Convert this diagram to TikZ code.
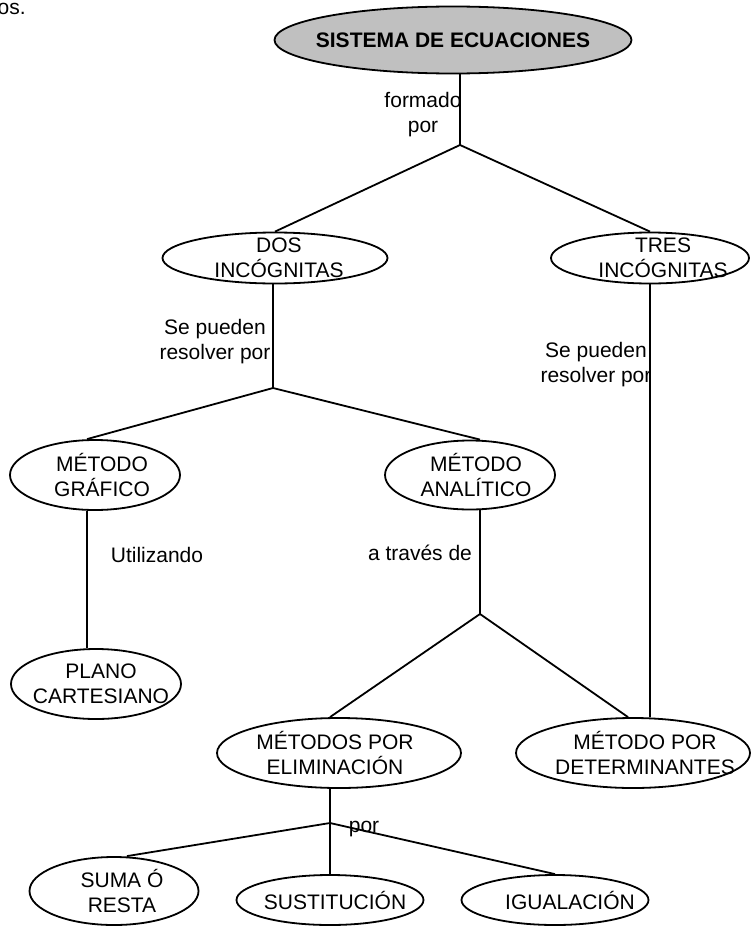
\documentclass[tikz,border=0pt]{standalone}
\usepackage{fontspec}
\setmainfont{Liberation Sans}
\usetikzlibrary{shapes.geometric}
\definecolor{OvalGray}{HTML}{C0C0C0}

\begin{document}
\begin{tikzpicture}[x=0.5pt,y=-0.5pt,
  font=\fontsize{10.5}{12.5}\selectfont,
  oval/.style={ellipse,draw,line width=0.9pt,inner sep=0pt},
  txt/.style={align=center,inner sep=0pt},
  link/.style={line width=0.9pt}
]
\useasboundingbox (0,0) rectangle (751,926);

\node[txt,anchor=east] (prev) at (26,9) {os.};

% concepts
\node[oval,fill=OvalGray,minimum width=178.5pt,minimum height=33.5pt,
  label={[txt,font=\fontsize{10.5}{12.5}\selectfont\bfseries]center:SISTEMA DE ECUACIONES}] (sistema) at (453,40) {};
\node[oval,minimum width=112.5pt,minimum height=25.5pt,
  label={[txt,xshift=2pt]center:DOS\\INCÓGNITAS}] (dos) at (275,258) {};
\node[oval,minimum width=99pt,minimum height=25.5pt,
  label={[txt,xshift=6.5pt]center:TRES\\INCÓGNITAS}] (tres) at (650,258) {};
\node[oval,minimum width=85pt,minimum height=35pt,
  label={[txt,xshift=3.5pt]center:MÉTODO\\GRÁFICO}] (grafico) at (95,475) {};
\node[oval,minimum width=85pt,minimum height=34.5pt,
  label={[txt,xshift=3pt]center:MÉTODO\\ANALÍTICO}] (analitico) at (470,475) {};
\node[oval,minimum width=85pt,minimum height=35pt,
  label={[txt,xshift=2.5pt]center:PLANO\\CARTESIANO}] (plano) at (96,684) {};
\node[oval,minimum width=122pt,minimum height=35pt,
  label={[txt,xshift=-2pt]center:MÉTODOS POR\\ELIMINACIÓN}] (elim) at (339,753) {};
\node[oval,minimum width=117pt,minimum height=35pt,
  label={[txt,xshift=6pt]center:MÉTODO POR\\DETERMINANTES}] (det) at (633,753) {};
\node[oval,minimum width=84.5pt,minimum height=34pt,
  label={[txt,xshift=4pt]center:SUMA Ó\\RESTA}] (suma) at (114,891) {};
\node[oval,minimum width=93.5pt,minimum height=25pt,
  label={[txt,xshift=2.5pt]center:SUSTITUCIÓN}] (sust) at (330,900) {};
\node[oval,minimum width=93.5pt,minimum height=25pt,
  label={[txt,xshift=7.5pt]center:IGUALACIÓN}] (igual) at (555,900) {};

% linking words
\node[txt] (formado) at (423,115) {formado\\por};
\node[txt] (resolver1) at (215,342) {Se pueden\\resolver por};
\node[txt] (resolver2) at (596,365) {Se pueden\\resolver por};
\node[txt] (utilizando) at (157,555) {Utilizando};
\node[txt] (atraves) at (420,553) {a través de};
\node[txt] (por) at (364,829) {por};

% branch points
\coordinate (j1) at (460,145);
\coordinate (j2) at (273,388);
\coordinate (j3) at (480,614);
\coordinate (j4) at (330,823);

\draw[link] (sistema.south -| j1) -- (j1);
\draw[link] (j1) -- (dos.north);
\draw[link] (j1) -- (tres.north);
\draw[link] (dos.south -| j2) -- (j2);
\draw[link] (j2) -- ([xshift=-4pt]grafico.north);
\draw[link] (j2) -- ([xshift=5pt]analitico.north);
\draw[link] ([xshift=-4pt]grafico.south) -- ([xshift=-4.5pt]plano.north);
\draw[link] (tres.south) -- (tres.south |- det.north);
\draw[link] (analitico.south -| j3) -- (j3);
\draw[link] (j3) -- ([xshift=-4.5pt]elim.north);
\draw[link] (j3) -- ([xshift=-2.5pt]det.north);
\draw[link] (elim.south -| j4) -- (j4);
\draw[link] (j4) -- ([xshift=6.5pt]suma.north);
\draw[link] (j4) -- (sust.north);
\draw[link] (j4) -- (igual.north);
\end{tikzpicture}
\end{document}
